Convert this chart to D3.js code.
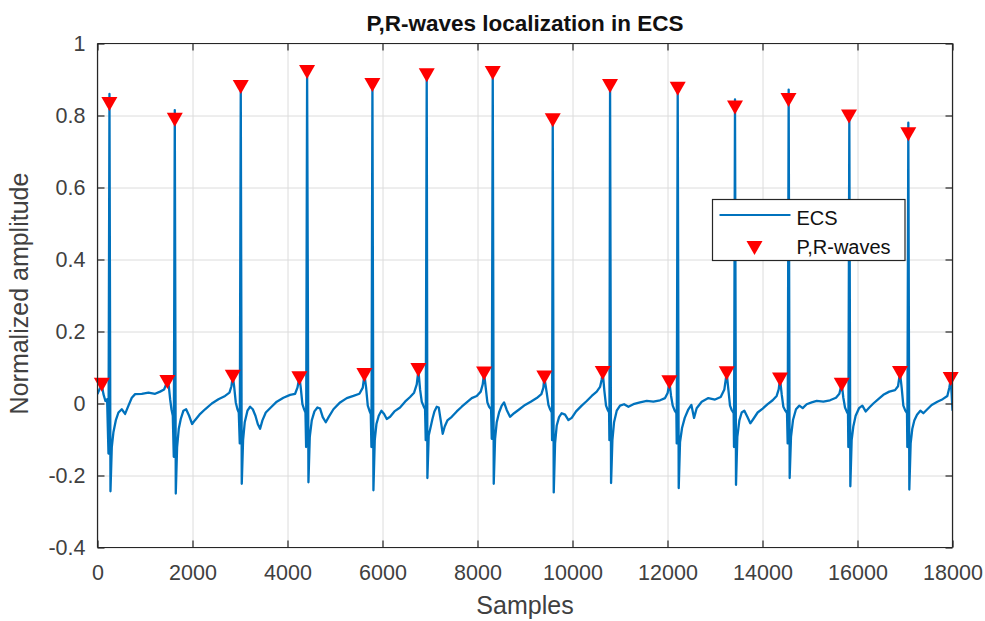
<!DOCTYPE html>
<html>
<head>
<meta charset="utf-8">
<script src="https://cdn.jsdelivr.net/npm/d3@7"></script>
<style>
  html, body { margin: 0; padding: 0; background: #fff; }
  svg { display: block; font-family: "Liberation Sans", Arial, Helvetica, sans-serif; }
</style>
</head>
<body>
<div id="chart"></div>
<script>
// ECS trace, [sample, normalized amplitude]
const ecsPoints = [
  [0,0.026],[27,0.035],[90,0.053],[125,0.026],[167,0.007],[202,0.012],[231,-0.139],[252,0.86],[273,-0.244],[301,-0.121],[336,-0.079],[385,-0.047],[441,-0.025],[511,-0.016],[581,-0.029],[652,-0.006],[722,0.016],[792,0.026],[932,0.027],[1073,0.03],[1213,0.027],[1318,0.033],[1402,0.039],[1444,0.053],[1473,0.066],
  [1501,0.048],[1529,0.012],[1557,-0.016],[1585,-0.034],[1606,-0.148],[1627,0.815],[1648,-0.25],[1676,-0.121],[1711,-0.07],[1753,-0.043],[1809,-0.02],[1866,-0.016],[1929,-0.034],[1992,-0.057],[2048,-0.047],[2146,-0.031],[2265,-0.016],[2406,0],[2546,0.012],[2686,0.021],[2778,0.03],[2820,0.048],[2848,0.077],
  [2876,0.048],[2911,0.003],[2946,-0.016],[2974,-0.025],[2995,-0.111],[3016,0.885],[3037,-0.223],[3065,-0.102],[3100,-0.052],[3157,-0.02],[3213,-0.009],[3269,-0.016],[3325,-0.034],[3374,-0.057],[3423,-0.07],[3472,-0.047],[3543,-0.025],[3648,-0.011],[3774,0.005],[3914,0.016],[4055,0.024],[4160,0.027],[4209,0.044],[4251,0.073],
  [4279,0.044],[4314,-0.002],[4350,-0.016],[4378,-0.025],[4392,-0.121],[4413,0.925],[4441,-0.219],[4469,-0.093],[4511,-0.047],[4567,-0.022],[4630,-0.011],[4686,-0.014],[4742,-0.038],[4806,-0.052],[4869,-0.037],[4967,-0.016],[5107,0.003],[5248,0.015],[5388,0.021],[5514,0.027],[5585,0.044],[5620,0.08],
  [5655,0.044],[5690,-0.006],[5725,-0.02],[5753,-0.029],[5767,-0.121],[5788,0.89],[5809,-0.241],[5837,-0.102],[5872,-0.057],[5921,-0.034],[5977,-0.02],[6034,-0.029],[6090,-0.043],[6160,-0.037],[6251,-0.022],[6370,-0.011],[6475,0.005],[6581,0.018],[6665,0.03],[6721,0.053],[6756,0.092],
  [6791,0.039],[6826,0.005],[6861,-0.006],[6896,-0.016],[6910,-0.102],[6931,0.915],[6945,-0.207],[6973,-0.089],[7009,-0.068],[7051,-0.043],[7093,-0.022],[7142,-0.009],[7184,-0.011],[7226,-0.047],[7268,-0.084],[7310,-0.064],[7366,-0.047],[7458,-0.037],[7563,-0.022],[7668,-0.009],[7773,0.003],[7879,0.015],[7984,0.021],[8068,0.033],[8110,0.053],[8138,0.085],
  [8173,0.044],[8208,0.003],[8244,-0.009],[8286,-0.016],[8300,-0.098],[8321,0.92],[8342,-0.223],[8370,-0.098],[8405,-0.052],[8454,-0.025],[8510,-0.006],[8559,0.003],[8615,-0.018],[8685,-0.037],[8770,-0.027],[8882,-0.016],[9001,-0.004],[9121,0.005],[9247,0.015],[9345,0.026],[9387,0.044],[9407,0.073],
  [9457,0.03],[9493,-0.004],[9528,-0.016],[9563,-0.025],[9570,-0.102],[9584,0.8],[9605,-0.247],[9633,-0.111],[9668,-0.061],[9717,-0.038],[9773,-0.027],[9843,-0.031],[9914,-0.046],[9984,-0.04],[10075,-0.022],[10194,-0.006],[10300,0.007],[10405,0.021],[10510,0.033],[10580,0.046],[10615,0.067],[10636,0.088],
  [10671,0.035],[10706,-0.006],[10742,-0.018],[10770,-0.025],[10777,-0.102],[10791,0.885],[10812,-0.221],[10840,-0.102],[10875,-0.052],[10931,-0.02],[11001,-0.006],[11086,-0.002],[11177,-0.009],[11282,-0.002],[11422,0.003],[11563,0.007],[11703,0.005],[11843,0.009],[11949,0.015],[12005,0.03],[12040,0.06],
  [12075,0.021],[12110,-0.006],[12152,-0.02],[12187,-0.027],[12194,-0.111],[12215,0.88],[12236,-0.235],[12264,-0.107],[12306,-0.068],[12363,-0.04],[12433,-0.018],[12503,-0.004],[12559,-0.04],[12614,-0.013],[12720,0.005],[12860,0.015],[13000,0.011],[13120,0.018],[13197,0.039],[13246,0.085],
  [13281,0.039],[13316,-0.006],[13351,-0.018],[13393,-0.027],[13400,-0.121],[13421,0.845],[13442,-0.226],[13470,-0.093],[13513,-0.047],[13562,-0.025],[13618,-0.02],[13681,-0.037],[13744,-0.055],[13807,-0.043],[13898,-0.025],[14004,-0.014],[14109,-0.002],[14214,0.009],[14298,0.021],[14341,0.039],[14369,0.069],
  [14404,0.026],[14439,-0.009],[14481,-0.02],[14516,-0.027],[14530,-0.111],[14551,0.872],[14572,-0.207],[14600,-0.093],[14642,-0.046],[14705,-0.016],[14776,-0.006],[14846,-0.013],[14930,-0.002],[15035,0.003],[15141,0.007],[15281,0.005],[15421,0.009],[15547,0.016],[15618,0.027],[15667,0.055],
  [15702,0.016],[15737,-0.011],[15772,-0.022],[15800,-0.029],[15807,-0.121],[15828,0.8],[15849,-0.23],[15877,-0.102],[15912,-0.064],[15961,-0.034],[16032,-0.013],[16102,-0.006],[16172,-0.022],[16249,-0.011],[16333,0],[16439,0.012],[16544,0.024],[16670,0.033],[16790,0.037],[16853,0.048],[16895,0.085],
  [16930,0.044],[16965,-0.006],[17007,-0.02],[17042,-0.027],[17049,-0.121],[17070,0.78],[17091,-0.239],[17119,-0.111],[17154,-0.07],[17196,-0.047],[17253,-0.031],[17323,-0.02],[17386,-0.027],[17470,-0.016],[17561,-0.004],[17681,0.005],[17793,0.012],[17891,0.021],[17933,0.044],[17961,0.066],[17982,0.026],[18000,-0.02]
];

// detected waves (markers)
const pWaveSamples = [91, 1471, 2848, 4250, 5618, 6755, 8138, 9407, 10637, 12039, 13247, 14369, 15668, 16895, 17962];
const pWaveValues  = [0.052, 0.060, 0.074, 0.070, 0.079, 0.093, 0.083, 0.072, 0.085, 0.059, 0.084, 0.067, 0.052, 0.085, 0.068];
const rWaveSamples = [250, 1627, 3016, 4412, 5787, 6932, 8321, 9584, 10790, 12215, 13421, 14547, 15821, 17070];
const rWaveValues  = [0.832, 0.788, 0.879, 0.921, 0.885, 0.912, 0.918, 0.787, 0.882, 0.874, 0.822, 0.843, 0.797, 0.748];

const xTicks = [0, 2000, 4000, 6000, 8000, 10000, 12000, 14000, 16000, 18000];
const yTicks = [-0.4, -0.2, 0, 0.2, 0.4, 0.6, 0.8, 1];
const yTickLabels = ["-0.4", "-0.2", "0", "0.2", "0.4", "0.6", "0.8", "1"];

const W = 985, H = 621;
const margins = { top: 43.5, right: 32.5, bottom: 73.5, left: 97.5 };
const axisColor = "#262626";
const gridColor = "#dcdcdc";
const lineColor = "#0072BD";

const svg = d3.select("#chart").append("svg")
    .attr("width", W).attr("height", H)
    .attr("viewBox", [0, 0, W, H]);

svg.append("rect").attr("width", W).attr("height", H).attr("fill", "#fff");

const x = d3.scaleLinear().domain([0, 18000]).range([margins.left, W - margins.right]);
const y = d3.scaleLinear().domain([-0.4, 1]).range([H - margins.bottom, margins.top]);

const x0 = x.range()[0], x1 = x.range()[1];
const y0 = y.range()[0], y1 = y.range()[1];

// grid
svg.append("g")
    .attr("transform", `translate(0,${y0})`)
    .call(d3.axisBottom(x).tickValues(xTicks).tickSize(-(y0 - y1)).tickFormat(""))
    .call(g => g.select(".domain").remove())
    .call(g => g.selectAll("line").attr("stroke", gridColor));
svg.append("g")
    .attr("transform", `translate(${x0},0)`)
    .call(d3.axisLeft(y).tickValues(yTicks).tickSize(-(x1 - x0)).tickFormat(""))
    .call(g => g.select(".domain").remove())
    .call(g => g.selectAll("line").attr("stroke", gridColor));

// data
svg.append("clipPath").attr("id", "plotclip")
    .append("rect").attr("x", x0).attr("y", y1).attr("width", x1 - x0).attr("height", y0 - y1);

const line = d3.line().x(d => x(d[0])).y(d => y(d[1]));

svg.append("path")
    .datum(ecsPoints)
    .attr("clip-path", "url(#plotclip)")
    .attr("fill", "none")
    .attr("stroke", lineColor)
    .attr("stroke-width", 2.3)
    .attr("stroke-linejoin", "round")
    .attr("d", line);

const waves = pWaveSamples.map((s, i) => [s, pWaveValues[i]])
    .concat(rWaveSamples.map((s, i) => [s, rWaveValues[i]]));

const tri = "M-8,-7L8,-7L0,7Z";

svg.append("g")
    .selectAll("path")
    .data(waves)
    .join("path")
    .attr("d", tri)
    .attr("transform", d => `translate(${x(d[0])},${y(d[1])})`)
    .attr("fill", "#ff0000");

// axes box with inward ticks on all sides
const tickLen = 7;
const fontTick = 21.5;

const gx = svg.append("g")
    .attr("transform", `translate(0,${y0})`)
    .call(d3.axisBottom(x).tickValues(xTicks).tickSize(-tickLen).tickPadding(17).tickFormat(d3.format("d")));
const gxTop = svg.append("g")
    .attr("transform", `translate(0,${y1})`)
    .call(d3.axisTop(x).tickValues(xTicks).tickSize(-tickLen).tickFormat(""));
const gy = svg.append("g")
    .attr("transform", `translate(${x0},0)`)
    .call(d3.axisLeft(y).tickValues(yTicks).tickSize(-tickLen).tickPadding(12)
        .tickFormat((d, i) => yTickLabels[i]));
const gyRight = svg.append("g")
    .attr("transform", `translate(${x1},0)`)
    .call(d3.axisRight(y).tickValues(yTicks).tickSize(-tickLen).tickFormat(""));

[gx, gxTop, gy, gyRight].forEach(g => {
    g.select(".domain").attr("stroke", axisColor).attr("stroke-width", 1.2);
    g.selectAll(".tick line").attr("stroke", axisColor).attr("stroke-width", 1.2);
    g.selectAll("text")
        .attr("fill", "#404040")
        .style("font-size", fontTick + "px")
        .style("font-family", "'Liberation Sans', Arial, sans-serif");
});
// plain box edges, no end caps
[gx, gxTop].forEach(g => g.select(".domain").attr("d", `M${x0},0H${x1}`));
[gy, gyRight].forEach(g => g.select(".domain").attr("d", `M0,${y0}V${y1}`));

// title and labels
svg.append("text")
    .attr("x", (x0 + x1) / 2).attr("y", 30.5)
    .attr("text-anchor", "middle")
    .attr("font-weight", "bold")
    .attr("font-size", 22.5)
    .attr("fill", "#111")
    .text("P,R-waves localization in ECS");

svg.append("text")
    .attr("x", (x0 + x1) / 2).attr("y", 614)
    .attr("text-anchor", "middle")
    .attr("font-size", 25)
    .attr("fill", "#404040")
    .text("Samples");

svg.append("text")
    .attr("transform", `translate(28,${(y0 + y1) / 2 - 2}) rotate(-90)`)
    .attr("text-anchor", "middle")
    .attr("font-size", 25)
    .attr("fill", "#404040")
    .text("Normalized amplitude");

// legend
const legend = svg.append("g").attr("transform", "translate(712.5,199.5)");
legend.append("rect")
    .attr("width", 192.5).attr("height", 61)
    .attr("fill", "#fff")
    .attr("stroke", axisColor)
    .attr("stroke-width", 1.2);
legend.append("line")
    .attr("x1", 7).attr("x2", 78).attr("y1", 15.5).attr("y2", 15.5)
    .attr("stroke", lineColor).attr("stroke-width", 2);
legend.append("path")
    .attr("d", tri)
    .attr("transform", "translate(42,48.5)")
    .attr("fill", "#ff0000");
legend.append("text")
    .attr("x", 84).attr("y", 25.5)
    .attr("font-size", 20).attr("fill", "#111")
    .text("ECS");
legend.append("text")
    .attr("x", 84).attr("y", 54)
    .attr("font-size", 20).attr("fill", "#111")
    .text("P,R-waves");
</script>
</body>
</html>
